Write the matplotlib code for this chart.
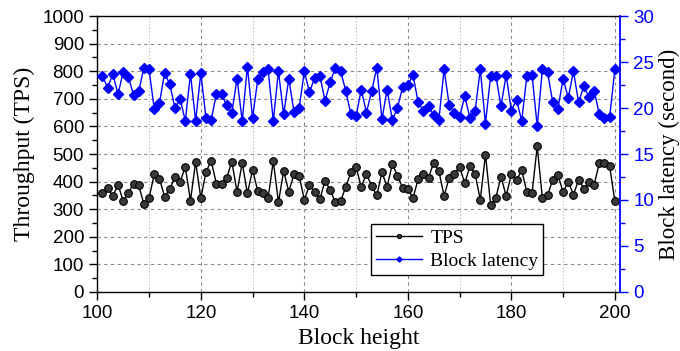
import numpy as np
import matplotlib
matplotlib.use("Agg")
import matplotlib.pyplot as plt
from matplotlib.ticker import MultipleLocator

# block heights 101..200
blocks = list(range(101, 201))

tps = [
    357, 377, 347, 389, 330, 359, 393, 386, 319, 341,
    426, 411, 346, 372, 417, 399, 453, 331, 472, 340,
    435, 475, 393, 392, 414, 472, 362, 468, 357, 442,
    366, 360, 339, 475, 325, 438, 364, 427, 421, 334,
    387, 363, 336, 403, 369, 325, 328, 381, 433, 452,
    381, 428, 385, 350, 433, 382, 463, 422, 377, 372,
    341, 409, 427, 414, 469, 438, 348, 414, 429, 453,
    394, 456, 427, 334, 498, 317, 341, 418, 348, 427,
    405, 441, 362, 358, 528, 339, 351, 407, 424, 362,
    400, 352, 407, 375, 397, 389, 467, 467, 455, 330,
]

latency = [
    23.5, 22.2, 23.7, 21.5, 23.9, 23.4, 21.4, 21.8, 24.4, 24.2,
    19.9, 20.5, 23.8, 22.6, 20.0, 21.0, 18.6, 23.7, 18.6, 23.8,
    18.9, 18.7, 21.5, 21.5, 20.3, 19.5, 23.2, 18.6, 24.5, 18.9,
    23.1, 23.9, 24.2, 18.6, 24.0, 19.3, 23.2, 19.6, 20.0, 24.0,
    21.7, 23.3, 23.5, 20.8, 22.8, 24.4, 24.0, 21.9, 19.3, 19.1,
    22.0, 19.5, 21.8, 24.4, 18.8, 22.0, 18.7, 20.0, 22.3, 22.5,
    23.6, 20.6, 19.7, 20.2, 19.2, 18.7, 24.2, 20.3, 19.5, 19.0,
    21.3, 18.9, 19.7, 24.2, 18.3, 23.5, 23.5, 20.2, 23.6, 19.7,
    20.9, 18.6, 23.5, 23.6, 18.0, 24.2, 23.9, 20.6, 19.9, 23.2,
    21.1, 24.0, 20.6, 22.4, 21.2, 21.9, 19.3, 18.9, 19.0, 24.2,
]

SANS = "Liberation Sans"
SERIF = "Liberation Serif"
BLUE = "#0000ff"


def main() -> None:
    fig = plt.figure(figsize=(6.8, 3.51), dpi=100)
    ax = fig.add_axes([0.1431, 0.1681, 0.7687, 0.7863])
    ax2 = ax.twinx()

    ax.plot(blocks, tps, color="black", lw=1.0, marker="o", ms=5.5,
            mfc="#3a3a3a", mec="black", mew=0.8, label="TPS")
    ax2.plot(blocks, latency, color=BLUE, lw=1.0, marker="D", ms=4.8,
             mfc=BLUE, mec=BLUE, label="Block latency")

    ax.set_xlim(100, 201)
    ax.set_ylim(0, 1000)
    ax2.set_ylim(0, 30)

    ax.xaxis.set_major_locator(MultipleLocator(20))
    ax.xaxis.set_minor_locator(MultipleLocator(10))
    ax.yaxis.set_major_locator(MultipleLocator(100))
    ax.yaxis.set_minor_locator(MultipleLocator(50))
    ax2.yaxis.set_major_locator(MultipleLocator(5))
    ax2.yaxis.set_minor_locator(MultipleLocator(2.5))

    # grid: dashed on major, dotted on minor x
    ax.grid(axis="y", which="major", color="#8a8a8a", ls=(0, (3, 3)), lw=0.8)
    ax.grid(axis="x", which="major", color="#8a8a8a", ls=(0, (3, 3)), lw=0.8)
    ax.grid(axis="x", which="minor", color="#c4c4c4", ls=(0, (1.5, 1.5)), lw=0.8)
    ax.set_axisbelow(True)

    for a in (ax, ax2):
        a.tick_params(which="major", direction="out", length=6, width=1)
        a.tick_params(which="minor", direction="out", length=3.5, width=1)
    ax2.tick_params(axis="y", which="both", colors=BLUE)
    ax2.spines["right"].set_color(BLUE)
    ax2.spines["right"].set_linewidth(1.3)
    ax2.spines["left"].set_visible(False)
    ax.spines["right"].set_visible(False)
    for s in ("left", "bottom", "top"):
        ax.spines[s].set_linewidth(1.0)
    ax2.spines["top"].set_visible(False)
    ax2.spines["bottom"].set_visible(False)

    for lab in ax.get_xticklabels() + ax.get_yticklabels():
        lab.set_fontfamily(SANS)
        lab.set_fontsize(13.5)
    for lab in ax2.get_yticklabels():
        lab.set_fontfamily(SANS)
        lab.set_fontsize(13.5)
        lab.set_color(BLUE)

    ax.set_xlabel("Block height", family=SERIF, fontsize=17, labelpad=4)
    ax.set_ylabel("Throughput (TPS)", family=SERIF, fontsize=17, labelpad=5)
    ax2.set_ylabel("Block latency (second)", family=SERIF, fontsize=16.5,
                   labelpad=3)

    h1, l1 = ax.get_legend_handles_labels()
    h2, l2 = ax2.get_legend_handles_labels()
    leg = ax2.legend(h1 + h2, l1 + l2, loc="lower right",
                     bbox_to_anchor=(0.853, 0.062), borderaxespad=0,
                     prop={"family": SERIF, "size": 14}, fancybox=False,
                     framealpha=1, edgecolor="black", markerscale=0.55,
                     handlelength=2.4, handletextpad=0.4, labelspacing=0.3,
                     borderpad=0.25)
    leg.get_frame().set_linewidth(1.0)

    fig.savefig("out.png", dpi=100)


if __name__ == "__main__":
    main()
